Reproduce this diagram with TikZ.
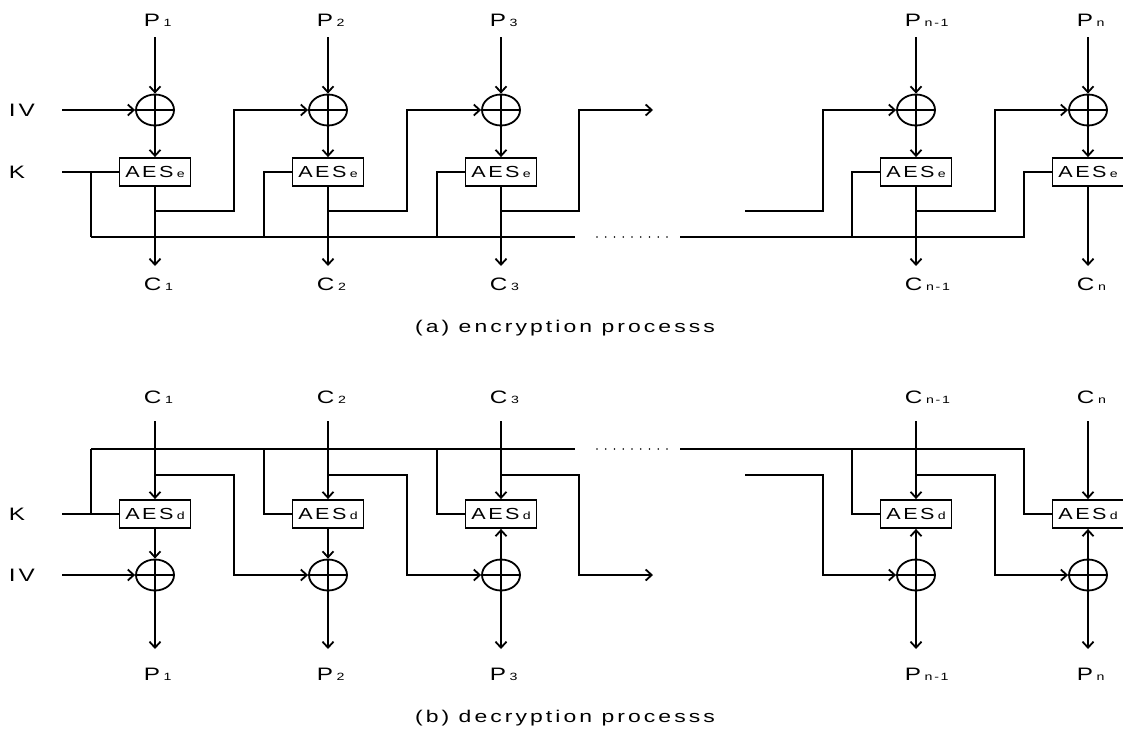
\documentclass[tikz,border=0pt]{standalone}
\usepackage{fontspec}
\setmainfont{Liberation Sans}[FakeStretch=1.35, LetterSpace=16]
\newfontfamily\capfont{Liberation Sans}[FakeStretch=1.35, LetterSpace=18]
\usetikzlibrary{arrows.meta,positioning,shapes.geometric}
\newcommand{\ix}[1]{\hspace{0.2em}{\fontsize{10.5}{10.5}\selectfont #1}}

\begin{document}
\begin{tikzpicture}[
  x=1pt, y=-1pt,
  line width=1.8pt,
  font=\fontsize{18}{18}\selectfont,
  lbl/.style={inner sep=0pt, anchor=west},
  xorop/.style={draw, ellipse, minimum width=38pt, minimum height=31pt, inner sep=0pt,
    path picture={\draw (path picture bounding box.west) -- (path picture bounding box.east)
      (path picture bounding box.north) -- (path picture bounding box.south);}},
  aesbox/.style={draw, minimum width=71pt, minimum height=28pt, inner sep=0pt, font=\fontsize{16}{16}\selectfont},
  arr/.style={-{Straight Barb[length=6pt,width=11pt]}},
  dotrow/.style={dash pattern=on 0pt off 8.75pt, line cap=round},
  captxt/.style={font=\capfont\fontsize{17}{17}\selectfont}
]
\useasboundingbox (0,0) rectangle (1123,732);

% (a) encryption
\node[lbl] (eiv) at (8,110.5) {IV};
\node[lbl] (ek) at (8,172) {K};
\coordinate (eivin) at (62,110);
\coordinate (ekin) at (62,172);
\foreach \i/\x/\s in {1/155/1, 2/328/2, 3/501/3, m/916/n-1, n/1088/n} {
  \node[xorop] (ex\i) at (\x,110) {};
  \node[aesbox] (ea\i) at (\x,172) {AES\ix{e}};
  \node[lbl] (ep\i) at (\x-12,20.5) {P\ix{\s}};
  \node[lbl] (ec\i) at (\x-12,284.5) {C\ix{\s}};
  \coordinate (et\i) at (\x,37);
  \coordinate (eb\i) at (\x,266);
  \draw[arr] (et\i) -- (ex\i);
  \draw[arr] (ex\i) -- (ea\i);
  \draw[arr] (ea\i) -- (eb\i);
  \draw (\x-64,237) |- (ea\i);
}
\draw[arr] (eivin) -- (ex1);
\draw (ekin) -- (ea1);
\draw (91,237) -- (575,237);
\draw[dotrow] (597,237) -- (667,237);
\draw (680,237) -- (1025,237);
\coordinate (eout) at (653,110);
\draw[arr] (155,211) -| (234,110) -- (ex2);
\draw[arr] (328,211) -| (407,110) -- (ex3);
\draw[arr] (501,211) -| (579,110) -- (eout);
\draw[arr] (745,211) -| (823,110) -- (exm);
\draw[arr] (916,211) -| (995,110) -- (exn);
\node[captxt] (capa) at (565,328) {(a) encryption processs};

% (b) decryption
\node[lbl] (dk) at (8,514) {K};
\node[lbl] (div) at (8,575.5) {IV};
\coordinate (dkin) at (62,514);
\coordinate (divin) at (62,575);
\foreach \i/\x/\s in {1/155/1, 2/328/2, 3/501/3, m/916/n-1, n/1088/n} {
  \node[lbl] (dc\i) at (\x-12,397.5) {C\ix{\s}};
  \node[aesbox] (da\i) at (\x,514) {AES\ix{d}};
  \node[xorop] (dx\i) at (\x,575) {};
  \node[lbl] (dp\i) at (\x-12,674.5) {P\ix{\s}};
  \coordinate (dt\i) at (\x,421);
  \coordinate (db\i) at (\x,649);
  \draw[arr] (dt\i) -- (da\i);
  \draw[arr] (dx\i) -- (db\i);
  \draw (\x-64,449) |- (da\i);
}
\foreach \i in {1,2} \draw[arr] (da\i) -- (dx\i);
\foreach \i in {3,m,n} \draw[arr] (dx\i) -- (da\i);
\draw[arr] (divin) -- (dx1);
\draw (dkin) -- (da1);
\draw (91,449) -- (575,449);
\draw[dotrow] (597,449) -- (667,449);
\draw (680,449) -- (1025,449);
\coordinate (dout) at (653,575);
\draw[arr] (155,475) -| (234,575) -- (dx2);
\draw[arr] (328,475) -| (407,575) -- (dx3);
\draw[arr] (501,475) -| (579,575) -- (dout);
\draw[arr] (745,475) -| (823,575) -- (dxm);
\draw[arr] (916,475) -| (995,575) -- (dxn);
\node[captxt] (capb) at (565,718) {(b) decryption processs};
\end{tikzpicture}
\end{document}
